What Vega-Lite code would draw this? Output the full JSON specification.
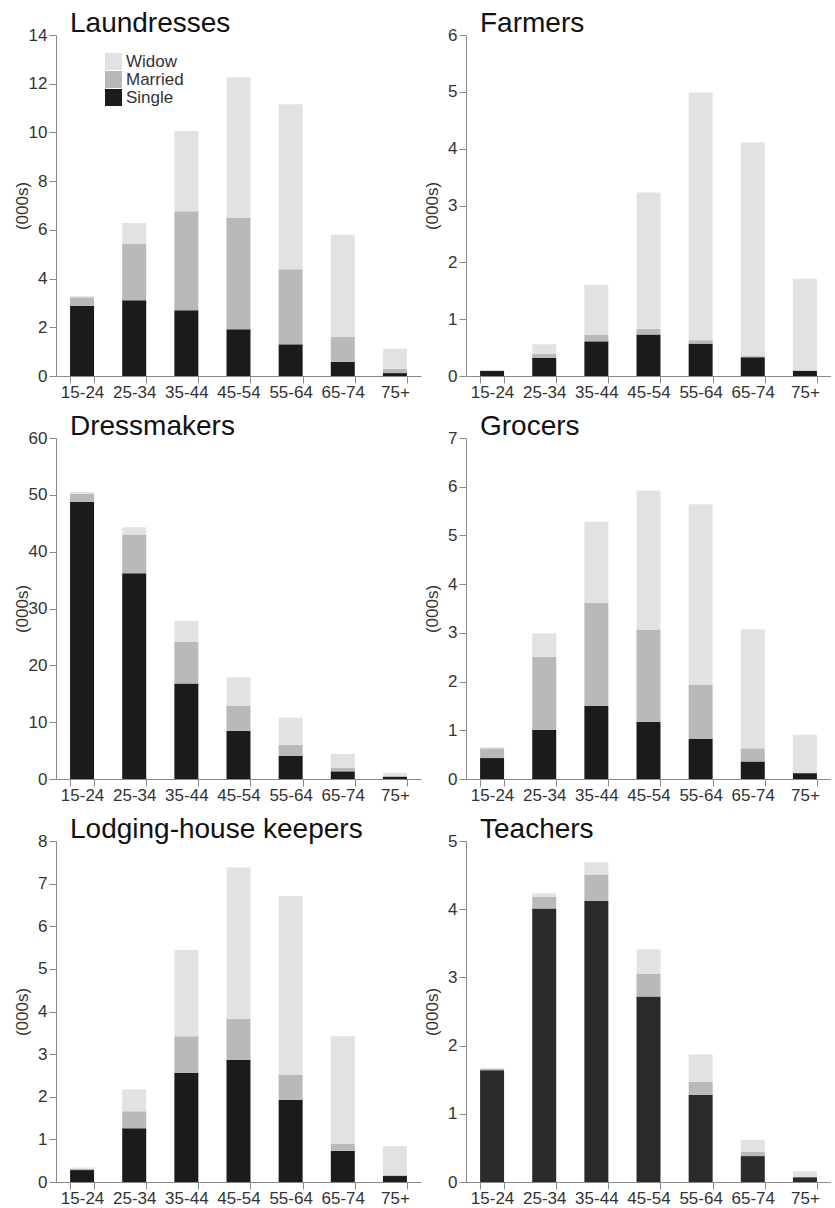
{
  "$schema": "https://vega.github.io/schema/vega-lite/v6.json",
  "padding": {"left": 13, "top": 10, "right": 0, "bottom": 0},
  "datasets": {
    "ranks": [
      {"status": "Single", "rank": 1},
      {"status": "Married", "rank": 2},
      {"status": "Widow", "rank": 3}
    ]
  },
  "data": {"values": [
    {"job":"Laundresses","age":"15-24","Single":2.88,"Married":0.35,"Widow":0.05},
    {"job":"Laundresses","age":"25-34","Single":3.11,"Married":2.31,"Widow":0.86},
    {"job":"Laundresses","age":"35-44","Single":2.70,"Married":4.06,"Widow":3.30},
    {"job":"Laundresses","age":"45-54","Single":1.92,"Married":4.58,"Widow":5.77},
    {"job":"Laundresses","age":"55-64","Single":1.30,"Married":3.08,"Widow":6.78},
    {"job":"Laundresses","age":"65-74","Single":0.58,"Married":1.04,"Widow":4.18},
    {"job":"Laundresses","age":"75+","Single":0.12,"Married":0.18,"Widow":0.82},
    {"job":"Farmers","age":"15-24","Single":0.09,"Married":0.005,"Widow":0.005},
    {"job":"Farmers","age":"25-34","Single":0.32,"Married":0.07,"Widow":0.17},
    {"job":"Farmers","age":"35-44","Single":0.61,"Married":0.12,"Widow":0.87},
    {"job":"Farmers","age":"45-54","Single":0.73,"Married":0.10,"Widow":2.40},
    {"job":"Farmers","age":"55-64","Single":0.57,"Married":0.06,"Widow":4.36},
    {"job":"Farmers","age":"65-74","Single":0.33,"Married":0.02,"Widow":3.76},
    {"job":"Farmers","age":"75+","Single":0.09,"Married":0.01,"Widow":1.61},
    {"job":"Dressmakers","age":"15-24","Single":48.8,"Married":1.4,"Widow":0.3},
    {"job":"Dressmakers","age":"25-34","Single":36.2,"Married":6.8,"Widow":1.3},
    {"job":"Dressmakers","age":"35-44","Single":16.8,"Married":7.3,"Widow":3.7},
    {"job":"Dressmakers","age":"45-54","Single":8.5,"Married":4.4,"Widow":5.0},
    {"job":"Dressmakers","age":"55-64","Single":4.1,"Married":1.9,"Widow":4.8},
    {"job":"Dressmakers","age":"65-74","Single":1.35,"Married":0.65,"Widow":2.4},
    {"job":"Dressmakers","age":"75+","Single":0.35,"Married":0.25,"Widow":0.45},
    {"job":"Grocers","age":"15-24","Single":0.43,"Married":0.20,"Widow":0.02},
    {"job":"Grocers","age":"25-34","Single":1.01,"Married":1.50,"Widow":0.48},
    {"job":"Grocers","age":"35-44","Single":1.50,"Married":2.12,"Widow":1.66},
    {"job":"Grocers","age":"45-54","Single":1.17,"Married":1.90,"Widow":2.85},
    {"job":"Grocers","age":"55-64","Single":0.82,"Married":1.11,"Widow":3.71},
    {"job":"Grocers","age":"65-74","Single":0.36,"Married":0.27,"Widow":2.44},
    {"job":"Grocers","age":"75+","Single":0.12,"Married":0.01,"Widow":0.78},
    {"job":"Lodging-house keepers","age":"15-24","Single":0.28,"Married":0.03,"Widow":0.03},
    {"job":"Lodging-house keepers","age":"25-34","Single":1.26,"Married":0.40,"Widow":0.51},
    {"job":"Lodging-house keepers","age":"35-44","Single":2.56,"Married":0.86,"Widow":2.02},
    {"job":"Lodging-house keepers","age":"45-54","Single":2.87,"Married":0.96,"Widow":3.55},
    {"job":"Lodging-house keepers","age":"55-64","Single":1.93,"Married":0.59,"Widow":4.19},
    {"job":"Lodging-house keepers","age":"65-74","Single":0.73,"Married":0.17,"Widow":2.52},
    {"job":"Lodging-house keepers","age":"75+","Single":0.14,"Married":0.02,"Widow":0.68},
    {"job":"Teachers","age":"15-24","Single":1.64,"Married":0.02,"Widow":0.01},
    {"job":"Teachers","age":"25-34","Single":4.01,"Married":0.17,"Widow":0.05},
    {"job":"Teachers","age":"35-44","Single":4.12,"Married":0.39,"Widow":0.18},
    {"job":"Teachers","age":"45-54","Single":2.72,"Married":0.33,"Widow":0.36},
    {"job":"Teachers","age":"55-64","Single":1.28,"Married":0.19,"Widow":0.40},
    {"job":"Teachers","age":"65-74","Single":0.38,"Married":0.06,"Widow":0.18},
    {"job":"Teachers","age":"75+","Single":0.07,"Married":0.01,"Widow":0.08}
  ]},
  "spacing": 13,
  "resolve": {"scale": {"color": "independent"}, "legend": {"color": "independent"}},
  "vconcat": [
    {"spacing": 2, "resolve": {"scale": {"color": "independent"}, "legend": {"color": "independent"}}, "hconcat": [
      {"width": 365, "height": 341, "title": "Laundresses",
       "transform": [{"filter": {"field": "job", "equal": "Laundresses"}}, {"fold": ["Single","Married","Widow"], "as": ["status","value"]}, {"lookup": "status", "from": {"data": {"name": "ranks"}, "key": "status", "fields": ["rank"]}}],
       "mark": {"type": "bar"},
       "encoding": {
         "x": {"field": "age", "type": "nominal", "sort": null, "title": null, "scale": {"paddingInner": 0.54, "paddingOuter": 0.27}},
         "y": {"field": "value", "type": "quantitative", "stack": "zero", "title": "(000s)", "scale": {"domain": [0, 14], "nice": false}, "axis": {"values": [0,2,4,6,8,10,12,14]}},
         "order": {"field": "rank", "type": "quantitative"},
         "color": {"field": "status", "type": "nominal", "scale": {"domain": ["Widow","Married","Single"], "range": ["#e2e2e2","#b9b9b9","#1b1b1b"]},
                   "legend": {"orient": "none", "legendX": 49, "legendY": 18, "title": null, "symbolType": "square", "symbolSize": 289, "symbolStrokeWidth": 0, "symbolOpacity": 1, "labelFontSize": 17, "labelColor": "#333", "rowPadding": 0, "labelOffset": 4}}
       }},
      {"width": 365, "height": 341, "title": "Farmers",
       "transform": [{"filter": {"field": "job", "equal": "Farmers"}}, {"fold": ["Single","Married","Widow"], "as": ["status","value"]}, {"lookup": "status", "from": {"data": {"name": "ranks"}, "key": "status", "fields": ["rank"]}}],
       "mark": {"type": "bar"},
       "encoding": {
         "x": {"field": "age", "type": "nominal", "sort": null, "title": null, "scale": {"paddingInner": 0.54, "paddingOuter": 0.27}},
         "y": {"field": "value", "type": "quantitative", "stack": "zero", "title": "(000s)", "scale": {"domain": [0, 6], "nice": false}, "axis": {"values": [0,1,2,3,4,5,6]}},
         "order": {"field": "rank", "type": "quantitative"},
         "color": {"field": "status", "type": "nominal", "scale": {"domain": ["Widow","Married","Single"], "range": ["#e2e2e2","#b9b9b9","#1b1b1b"]}, "legend": null}
       }}
    ]},
    {"spacing": 2, "resolve": {"scale": {"color": "independent"}, "legend": {"color": "independent"}}, "hconcat": [
      {"width": 365, "height": 341, "title": "Dressmakers",
       "transform": [{"filter": {"field": "job", "equal": "Dressmakers"}}, {"fold": ["Single","Married","Widow"], "as": ["status","value"]}, {"lookup": "status", "from": {"data": {"name": "ranks"}, "key": "status", "fields": ["rank"]}}],
       "mark": {"type": "bar"},
       "encoding": {
         "x": {"field": "age", "type": "nominal", "sort": null, "title": null, "scale": {"paddingInner": 0.54, "paddingOuter": 0.27}},
         "y": {"field": "value", "type": "quantitative", "stack": "zero", "title": "(000s)", "scale": {"domain": [0, 60], "nice": false}, "axis": {"values": [0,10,20,30,40,50,60]}},
         "order": {"field": "rank", "type": "quantitative"},
         "color": {"field": "status", "type": "nominal", "scale": {"domain": ["Widow","Married","Single"], "range": ["#e2e2e2","#b9b9b9","#1b1b1b"]}, "legend": null}
       }},
      {"width": 365, "height": 341, "title": "Grocers",
       "transform": [{"filter": {"field": "job", "equal": "Grocers"}}, {"fold": ["Single","Married","Widow"], "as": ["status","value"]}, {"lookup": "status", "from": {"data": {"name": "ranks"}, "key": "status", "fields": ["rank"]}}],
       "mark": {"type": "bar"},
       "encoding": {
         "x": {"field": "age", "type": "nominal", "sort": null, "title": null, "scale": {"paddingInner": 0.54, "paddingOuter": 0.27}},
         "y": {"field": "value", "type": "quantitative", "stack": "zero", "title": "(000s)", "scale": {"domain": [0, 7], "nice": false}, "axis": {"values": [0,1,2,3,4,5,6,7]}},
         "order": {"field": "rank", "type": "quantitative"},
         "color": {"field": "status", "type": "nominal", "scale": {"domain": ["Widow","Married","Single"], "range": ["#e2e2e2","#b9b9b9","#1b1b1b"]}, "legend": null}
       }}
    ]},
    {"spacing": 2, "resolve": {"scale": {"color": "independent"}, "legend": {"color": "independent"}}, "hconcat": [
      {"width": 365, "height": 341, "title": "Lodging-house keepers",
       "transform": [{"filter": {"field": "job", "equal": "Lodging-house keepers"}}, {"fold": ["Single","Married","Widow"], "as": ["status","value"]}, {"lookup": "status", "from": {"data": {"name": "ranks"}, "key": "status", "fields": ["rank"]}}],
       "mark": {"type": "bar"},
       "encoding": {
         "x": {"field": "age", "type": "nominal", "sort": null, "title": null, "scale": {"paddingInner": 0.54, "paddingOuter": 0.27}},
         "y": {"field": "value", "type": "quantitative", "stack": "zero", "title": "(000s)", "scale": {"domain": [0, 8], "nice": false}, "axis": {"values": [0,1,2,3,4,5,6,7,8]}},
         "order": {"field": "rank", "type": "quantitative"},
         "color": {"field": "status", "type": "nominal", "scale": {"domain": ["Widow","Married","Single"], "range": ["#e2e2e2","#b9b9b9","#1b1b1b"]}, "legend": null}
       }},
      {"width": 365, "height": 341, "title": "Teachers",
       "transform": [{"filter": {"field": "job", "equal": "Teachers"}}, {"fold": ["Single","Married","Widow"], "as": ["status","value"]}, {"lookup": "status", "from": {"data": {"name": "ranks"}, "key": "status", "fields": ["rank"]}}],
       "mark": {"type": "bar"},
       "encoding": {
         "x": {"field": "age", "type": "nominal", "sort": null, "title": null, "scale": {"paddingInner": 0.54, "paddingOuter": 0.27}},
         "y": {"field": "value", "type": "quantitative", "stack": "zero", "title": "(000s)", "scale": {"domain": [0, 5], "nice": false}, "axis": {"values": [0,1,2,3,4,5]}},
         "order": {"field": "rank", "type": "quantitative"},
         "color": {"field": "status", "type": "nominal", "scale": {"domain": ["Widow","Married","Single"], "range": ["#e2e2e2","#b9b9b9","#2a2a2a"]}, "legend": null}
       }}
    ]}
  ],
  "config": {
    "view": {"stroke": null},
    "font": "Liberation Sans",
    "title": {"fontSize": 28, "fontWeight": "normal", "anchor": "start", "frame": "group", "dx": 14, "color": "#111111", "offset": -12},
    "axis": {"domainColor": "#8a8a8a", "tickColor": "#8a8a8a", "labelColor": "#333333", "labelFontSize": 17, "titleFontSize": 17, "titleFontWeight": "normal", "titleColor": "#333333", "grid": false, "labelFont": "Liberation Sans", "titleFont": "Liberation Sans"},
    "axisY": {"tickSize": 7, "labelPadding": 2, "titleX": -25},
    "axisX": {"tickBand": "extent", "tickSize": 7, "labelAngle": 0, "labelPadding": 1}
  }
}
